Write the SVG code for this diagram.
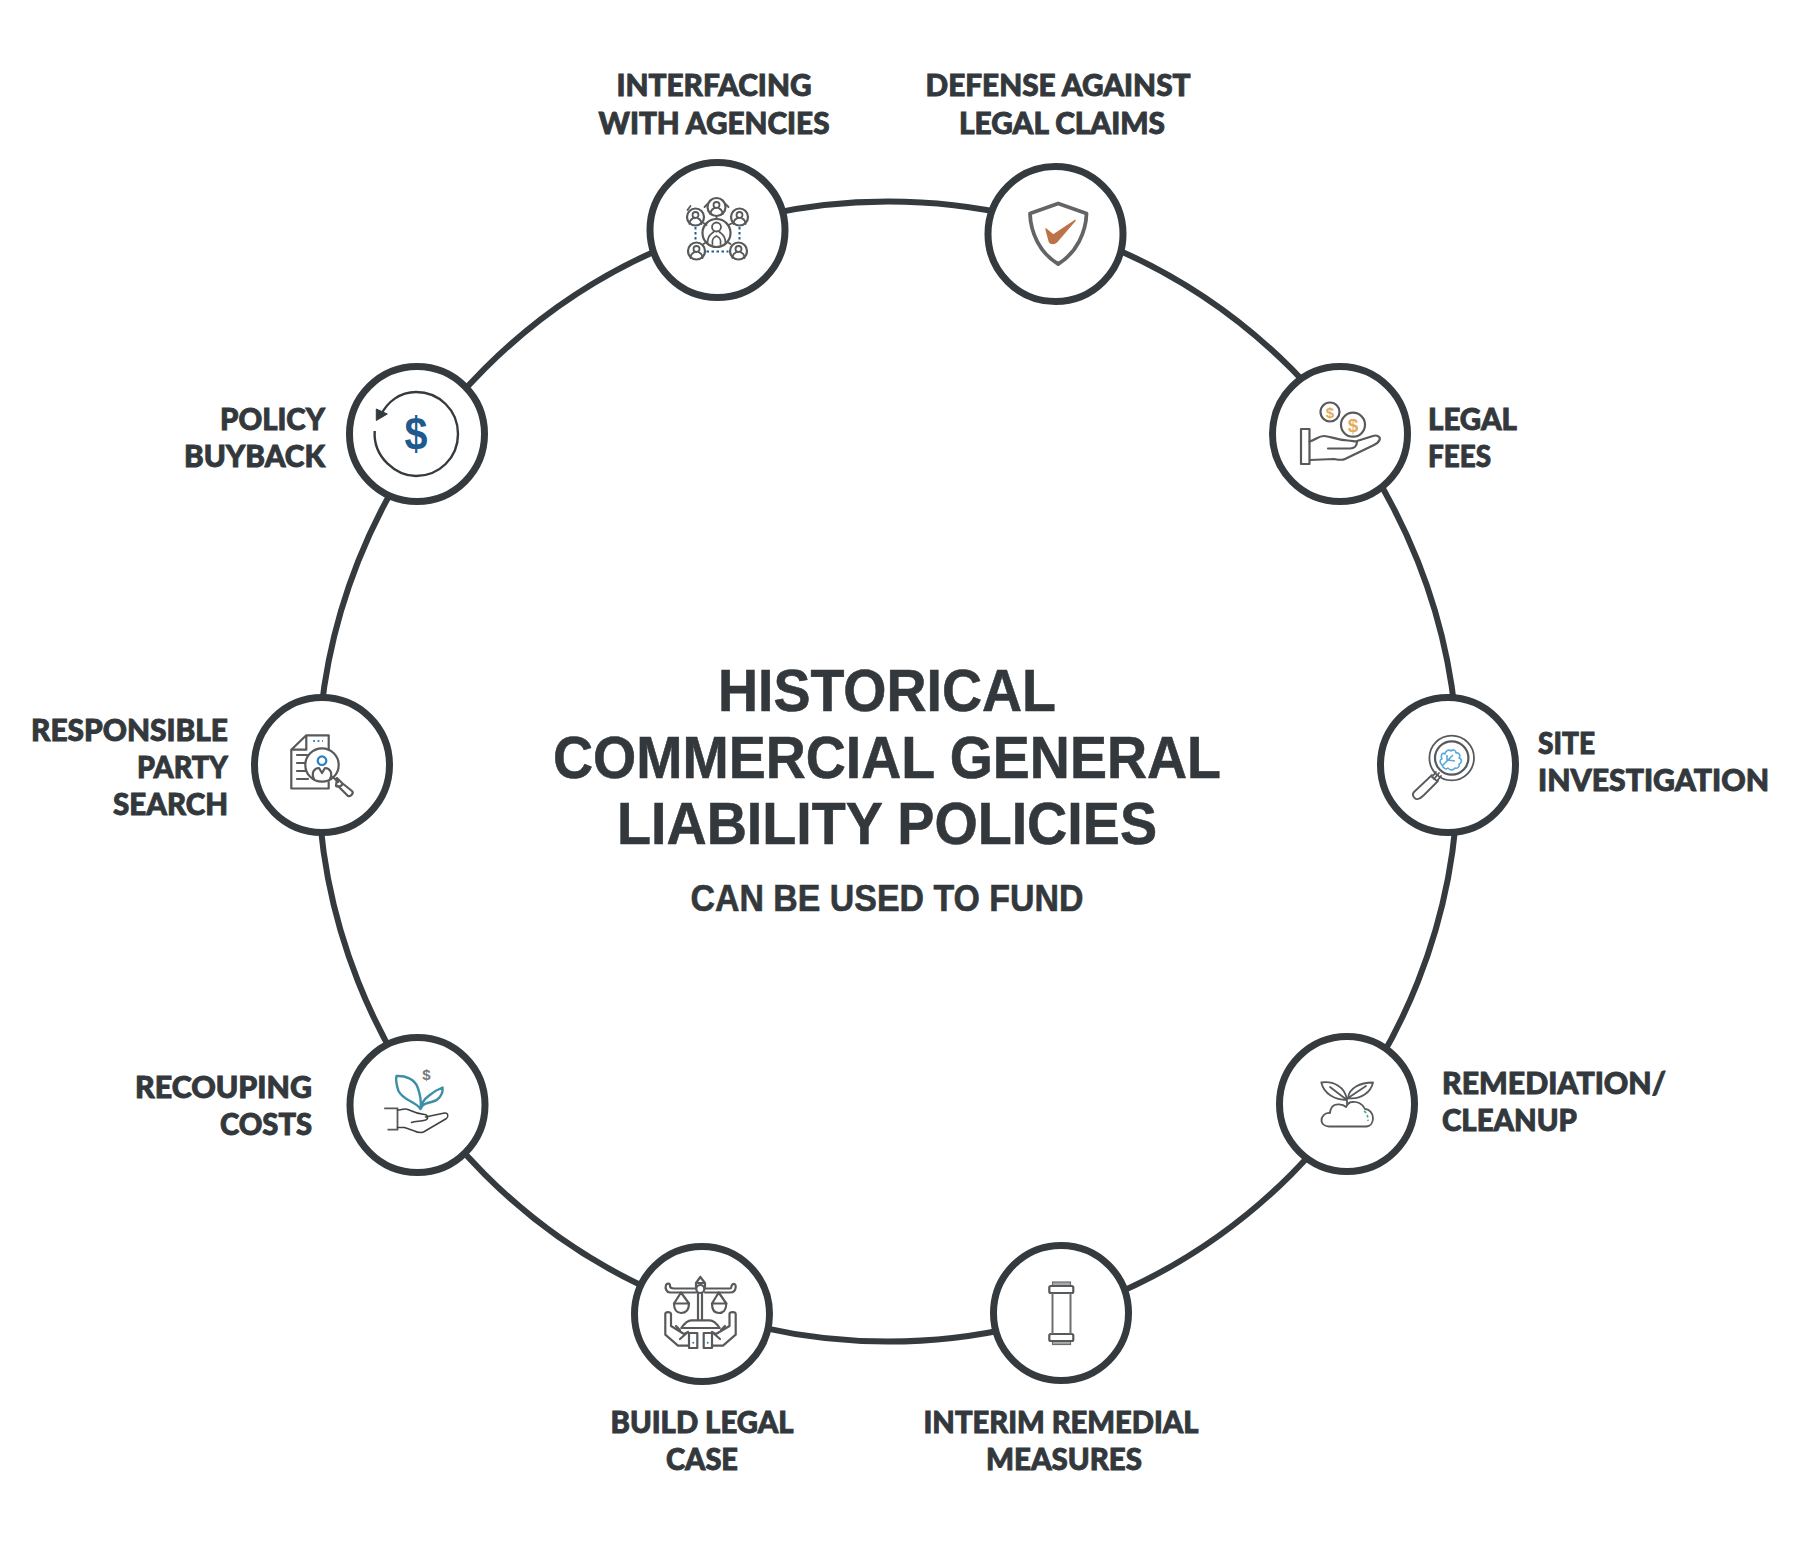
<svg xmlns="http://www.w3.org/2000/svg" width="1809" height="1549" viewBox="0 0 1809 1549">
<style>
.ring{fill:#fff;stroke:#343a3e;stroke-width:7}
.lb{font-family:"Lato","Liberation Sans",sans-serif;font-weight:900;font-size:30px;fill:#33383c;stroke:#33383c;stroke-width:.9}
.ttl{font-family:"Liberation Sans",Arial,sans-serif;font-weight:700;fill:#33383c;stroke:#33383c;stroke-width:.6;text-anchor:middle}
.i{fill:none;stroke:#58595b;stroke-width:2.2;stroke-linejoin:round;stroke-linecap:round}
.i2{fill:none;stroke:#58595b;stroke-width:1.8;stroke-linejoin:round;stroke-linecap:round}
.m{text-anchor:middle}.e{text-anchor:end}
.usd{font-family:"Liberation Sans",Arial,sans-serif;font-weight:700;text-anchor:middle}
</style>
<defs>
<g id="person"><circle cx="0" cy="-3" r="3" class="i2"/><path class="i2" d="M-6 6C-6 1-3 1-2 0M6 6C6 1 3 1 2 0"/></g>
</defs>
<rect width="1809" height="1549" fill="#fff"/>
<g id="connectors"><circle cx="888" cy="771.5" r="570" fill="none" stroke="#343a3e" stroke-width="6"/></g>

<g id="title">
<text class="ttl" x="887" y="711" font-size="60" textLength="338" lengthAdjust="spacingAndGlyphs">HISTORICAL</text>
<text class="ttl" x="887" y="777.500" font-size="60" textLength="668" lengthAdjust="spacingAndGlyphs">COMMERCIAL GENERAL</text>
<text class="ttl" x="887" y="844" font-size="60" textLength="540" lengthAdjust="spacingAndGlyphs">LIABILITY POLICIES</text>
<text class="ttl" x="887" y="910.500" font-size="36" textLength="393" lengthAdjust="spacingAndGlyphs">CAN BE USED TO FUND</text>
</g>

<g id="node-interfacing">
<circle class="ring" cx="717.500" cy="230" r="67.500"/>
<g transform="translate(717.500 230)">
<path class="i2" d="M-1 -14V-11M-14 -7L-11 -5M15 -7L11 -5M-14 14L-11 12M13 14L10 12M-27 -24L-30 -20M-10 -26L-13 -23M8 -26L11 -23"/>
<circle class="i" cx="-1" cy="3" r="14"/><circle class="i" cx="-1" cy="-23" r="9"/><circle class="i" cx="-22" cy="-13" r="8.500"/><circle class="i" cx="22" cy="-13" r="8.500"/><circle class="i" cx="-21" cy="21" r="8.500"/><circle class="i" cx="21" cy="21" r="8.500"/>
<use href="#person" transform="translate(-1 -22)"/><use href="#person" transform="translate(-22 -12)"/><use href="#person" transform="translate(22 -12)"/><use href="#person" transform="translate(-21 22)"/><use href="#person" transform="translate(21 22)"/>
<circle class="i2" cx="-1" cy="-3" r="4.500"/><path class="i2" d="M-10 13C-10 5-6 4-4 2M8 13C8 5 4 4 2 2M-5 14C-6 8-3 7-1 6C1 7 4 8 3 14"/>
<path d="M-22 -3V12M22 -3V12M-11 21.500H11" fill="none" stroke="#1f5f8f" stroke-width="2" stroke-dasharray="2.500 2.500"/>
</g></g>

<g id="node-defense">
<circle class="ring" cx="1055.500" cy="234" r="67.500"/>
<g transform="translate(1055.500 234)">
<path d="M2.700 -30.500L-25.500 -20.500C-25 -2-16 19 2.700 30C21 19 30.500 -2 31 -20.500Z" fill="none" stroke="#636466" stroke-width="3.800" stroke-linejoin="round"/>
<path d="M-9.500 -5L-2.300 1L19.500 -13.500L1 8C-1 10-5 10-6 8Z" fill="#bd7248" stroke="#bd7248" stroke-width="1.500" stroke-linejoin="round"/>
</g></g>

<g id="node-legal-fees">
<circle class="ring" cx="1340" cy="434" r="67.500"/>
<g transform="translate(1340 434)">
<circle class="i" cx="-10" cy="-22" r="9.500"/><circle class="i" cx="13" cy="-9.300" r="12"/>
<text class="usd" x="-10" y="-16.500" font-size="15" font-weight="400" fill="#e3ab60">$</text><text class="usd" x="13" y="-2.500" font-size="19" fill="#e3ab60">$</text>
<rect class="i" x="-39" y="-5" width="8.500" height="35"/>
<path class="i" d="M-30.500 7.500C-24 6-22 2-16 2C-10 2-4 6 8 6.500C14 7 16 8 17 7L33 2C37 0.500 41 3 39.500 6C38.500 8.500 37 9.500 34 11L5 25C2 26.500 0 26 -6 25L-30 26"/>
<path class="i" d="M-12 14.500H10C14 14.500 17 12 17 7.500"/>
</g></g>

<g id="node-site">
<circle class="ring" cx="1448" cy="765" r="67.500"/>
<g transform="translate(1448 765)">
<circle class="i2" cx="3.700" cy="-7" r="22.300"/><circle class="i" cx="3.700" cy="-7" r="16.700"/>
<path class="i2" d="M-9 8L-14 14M-7 11L-11 16L-16 12L-12 7"/>
<path class="i2" d="M-16 10L-34 27C-37 30-33 35-30 34C-28 33.500-26 32-24 30L-10 16"/>
<path d="M-6 0C-9 -3-8 -6-6 -6C-8 -10-5 -13-3 -11C-2 -16 2 -15 3 -14C5 -16 8 -15 8 -12C11 -13 13 -9 11 -7C15 -6 13 -1 11 -1C12 2 9 4 7 3C5 6 1 5 0 3C-2 5-5 3-6 0ZM-6 1L5 -10M-1 -4V-10M0 -5L7 -4" fill="none" stroke="#5aa9dc" stroke-width="1.600" stroke-linejoin="round"/>
</g></g>

<g id="node-remediation">
<circle class="ring" cx="1347" cy="1104" r="67.500"/>
<g transform="translate(1347 1104)">
<path class="i2" d="M0 -4C-12 -4-23 -10-25.700 -21.500C-14 -23-2 -18 0 -4ZM0 -4L-17 -17M1 -6C2 -16 13 -21.500 26 -21.500C24 -12 14 -4 1 -6ZM1 -6L19 -18M0 -5V0"/>
<path class="i2" d="M-18 22.500H19C24 22.500 26 18 26 14C26 9 22 5 18 5C16 0 10 -3 5 -2C2 -2 0 1 -1 3C-4 0-12 -1-15 3C-17 6-17 8-17 9C-22 8-26 13-25.500 17C-25 20-22 22.500-18 22.500Z"/>
<path d="M17 7C20 9 21 12 21 17" fill="none" stroke="#4cb08c" stroke-width="1.600" stroke-dasharray="3 2"/>
</g></g>

<g id="node-interim">
<circle class="ring" cx="1061" cy="1313" r="67.500"/>
<g transform="translate(1061 1313)">
<rect x="-8.500" y="-31" width="18" height="4" fill="#a8a9ab" stroke="#6d6e70" stroke-width="1.200"/>
<rect x="-8.500" y="28" width="18" height="3.500" fill="#a8a9ab" stroke="#6d6e70" stroke-width="1.200"/>
<rect x="-11.700" y="-27" width="24" height="7" rx="1.500" class="i"/>
<rect x="-11.700" y="21" width="24" height="7" rx="1.500" class="i"/>
<path d="M-8.500 -20V21M9.500 -20V21" stroke="#6d6e70" stroke-width="2" fill="none"/>
</g></g>

<g id="node-build">
<circle class="ring" cx="702" cy="1314" r="67.500"/>
<g transform="translate(702 1314)">
<path class="i" d="M-1.700 -37L-6 -31V-27M-1.700 -37L3 -31V-27M-6 -31H3"/>
<path class="i" d="M-6 -21.500H-32C-36 -22-37 -26-36 -29C-35 -31-32 -31-32 -28C-32 -26-30 -25.500-28 -25.500H-6M3 -25.500H28C30 -25.500 29 -28 30 -29C32 -31 34 -30 33.700 -27C33.500 -23 31 -21.500 28 -21.500H3"/>
<circle class="i" cx="-1.700" cy="-25" r="4"/>
<path class="i" d="M-4 -21V6M0 -21V6M-21 -21.500L-28 -10.500H-13ZM16.700 -21.500L10 -10.500H24.300Z"/>
<path class="i" d="M-28 -10.500C-28 -4-25 -1-21 -1C-16 -1-13 -4-13 -10.500M10 -10.500C10 -4 12 -1 17 -1C21 -1 24.300 -4 24.300 -10.500"/>
<path class="i" d="M-20.700 14C-18 10-14 6.300-10.700 6.300H7.700C11 6.300 15 10 17.700 14ZM-20.700 14H17.700"/>
<path class="i" d="M-31 0V12L-18 20L-14 18M-31 0C-31 -2.500-36.700 -2.500-36.700 0V20.700L-24 31.700H-13.300M-22 25L-14 18M-26 12L-22 16"/>
<path class="i" d="M27.500 0V12L14 20L10 18M27.500 0C27.500 -2.500 33.700 -2.500 33.700 0V20.700L21 31.700H10M18 25L10 18M23 12L19 16"/>
<rect class="i" x="-13" y="19" width="8.300" height="15"/><rect class="i" x="1.700" y="19" width="8.300" height="15"/>
<circle cx="-8.700" cy="28.700" r="1" fill="#2d7fa8"/><circle cx="5.700" cy="28.700" r="1" fill="#2d7fa8"/>
</g></g>

<g id="node-recouping">
<circle class="ring" cx="417.500" cy="1105" r="67.500"/>
<g transform="translate(417.500 1105)">
<text class="usd" x="9" y="-25" font-size="15" fill="#77787b">$</text>
<path d="M3 4C-2 -4-14 -4-19 -14C-21 -20-22 -25-21 -29C-12 -29.500-3 -26 0 -18C3 -10 4 -3 3 4ZM3 4C4 -2 7 -6 11 -9C17 -14 21 -16 25 -17.500C26 -10 20 -4 14 -3C9 -2 5 -1 3 4Z" fill="none" stroke="#3c8fa6" stroke-width="2.400" stroke-linejoin="round"/>
<path d="M-33.300 3.300H-20V24.700H-30" fill="none" stroke="#58595b" stroke-width="1.800"/>
<path fill="none" stroke="#3f4144" stroke-width="1.500" stroke-linejoin="round" stroke-linecap="round" d="M-20 5C-16 5-13 3-9 4.700C-3 7.500 3 9 7 9.500C11 10 11 14 8 15C3 16.500-2 16-6 17.500M8 12L27 8C31 7.500 31 12 29 13.500L6 27C3 28 0 27.500-3 26L-13 22.500H-20"/>
</g></g>

<g id="node-responsible">
<circle class="ring" cx="322" cy="765" r="67.500"/>
<g transform="translate(322 765)">
<path class="i" d="M-11 23.500H-30.700V-15.300L-15.700 -29.700H6.700V-16M6.700 17V23.500H-11M-30.700 -15.300H-15.700V-29.700"/>
<path class="i" d="M-25 -10H-15M-25 -2H-17M-25 6H-16M-25 14H-14"/>
<path d="M-9 -24H1" stroke="#4a90c4" stroke-width="2" stroke-dasharray="2 2.500" fill="none"/>
<circle cx="0" cy="0" r="16.700" fill="#fff" stroke="#58595b" stroke-width="2.200"/>
<circle cx="0" cy="-4.300" r="4.300" fill="none" stroke="#2d7fbf" stroke-width="2.200"/>
<path class="i" d="M-8 14C-11 8-8 3-3 3L0 8L3 3C8 3 11 8 8 14"/>
<path class="i" d="M11 12L16 17M15 13L20 18C22 20 16 23 14 21ZM20 18L30 26C32 28 29 32 26 31L16 21"/>
</g></g>

<g id="node-policy">
<circle class="ring" cx="417" cy="434" r="67.500"/>
<g transform="translate(417 434)">
<path d="M-42.300 -3C-44 24-20 42-1 42C22 42 41 24 41 0C41 -24 22 -42 -1 -42C-17 -42-30 -32-36 -19" fill="none" stroke="#343a3e" stroke-width="2.400"/>
<path d="M-40.700 -13.500L-40.700 -25L-29.700 -20Z" fill="#343a3e" stroke="#343a3e" stroke-width="1"/>
<text class="usd" x="-1" y="16" font-size="46" textLength="23" lengthAdjust="spacingAndGlyphs" fill="#1f5a8f">$</text>
</g></g>

<g id="label-interfacing"><text class="lb m" x="714" y="96" textLength="195" lengthAdjust="spacingAndGlyphs">INTERFACING</text><text class="lb m" x="714" y="133.500" textLength="231" lengthAdjust="spacingAndGlyphs">WITH AGENCIES</text></g>
<g id="label-defense"><text class="lb m" x="1058" y="96" textLength="265" lengthAdjust="spacingAndGlyphs">DEFENSE AGAINST</text><text class="lb m" x="1062" y="133.500" textLength="206" lengthAdjust="spacingAndGlyphs">LEGAL CLAIMS</text></g>
<g id="label-legal"><text class="lb" x="1428" y="430" textLength="89" lengthAdjust="spacingAndGlyphs">LEGAL</text><text class="lb" x="1428" y="467" textLength="63" lengthAdjust="spacingAndGlyphs">FEES</text></g>
<g id="label-site"><text class="lb" x="1538" y="754" textLength="57" lengthAdjust="spacingAndGlyphs">SITE</text><text class="lb" x="1538" y="791" textLength="231" lengthAdjust="spacingAndGlyphs">INVESTIGATION</text></g>
<g id="label-remediation"><text class="lb" x="1442" y="1094" textLength="224" lengthAdjust="spacingAndGlyphs">REMEDIATION/</text><text class="lb" x="1442" y="1131" textLength="135" lengthAdjust="spacingAndGlyphs">CLEANUP</text></g>
<g id="label-interim"><text class="lb m" x="1061" y="1433" textLength="275" lengthAdjust="spacingAndGlyphs">INTERIM REMEDIAL</text><text class="lb m" x="1064" y="1470" textLength="156" lengthAdjust="spacingAndGlyphs">MEASURES</text></g>
<g id="label-build"><text class="lb m" x="702" y="1433" textLength="183" lengthAdjust="spacingAndGlyphs">BUILD LEGAL</text><text class="lb m" x="702" y="1470" textLength="72" lengthAdjust="spacingAndGlyphs">CASE</text></g>
<g id="label-recouping"><text class="lb e" x="312" y="1098" textLength="177" lengthAdjust="spacingAndGlyphs">RECOUPING</text><text class="lb e" x="312" y="1135" textLength="92" lengthAdjust="spacingAndGlyphs">COSTS</text></g>
<g id="label-responsible"><text class="lb e" x="228" y="741" textLength="197" lengthAdjust="spacingAndGlyphs">RESPONSIBLE</text><text class="lb e" x="228" y="778" textLength="91" lengthAdjust="spacingAndGlyphs">PARTY</text><text class="lb e" x="228" y="815" textLength="115" lengthAdjust="spacingAndGlyphs">SEARCH</text></g>
<g id="label-policy"><text class="lb e" x="325" y="430" textLength="105" lengthAdjust="spacingAndGlyphs">POLICY</text><text class="lb e" x="325" y="467" textLength="141" lengthAdjust="spacingAndGlyphs">BUYBACK</text></g>
</svg>
